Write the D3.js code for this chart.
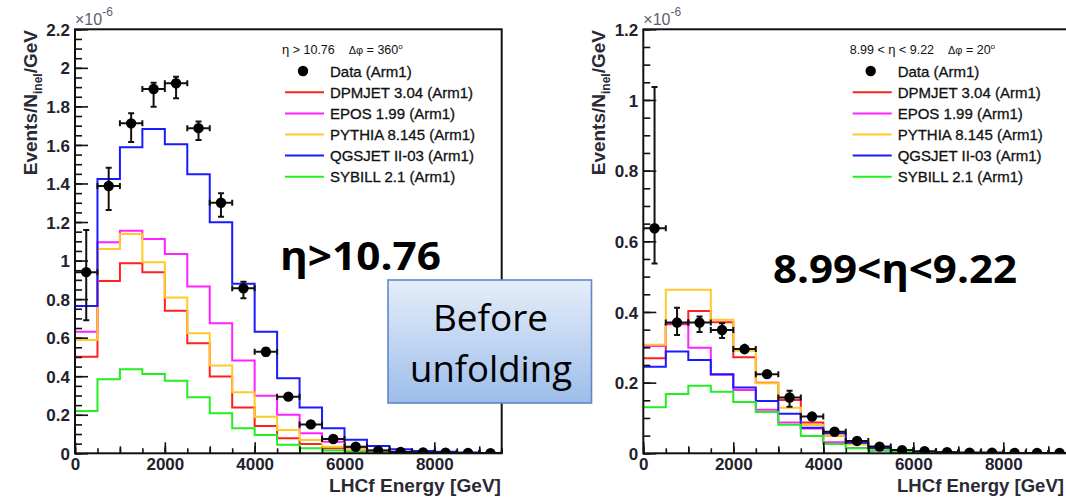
<!DOCTYPE html>
<html>
<head>
<meta charset="utf-8">
<script src="https://cdn.jsdelivr.net/npm/d3@7"></script>
<style>
  body { margin: 0; background: #fff; }
  svg { display: block; }
  text { white-space: pre; }
  .tick text { font-family: "Liberation Sans", Arial, sans-serif; font-weight: bold; font-size: 17px; fill: #22222e; }
  .tick line { stroke: #111; stroke-width: 1.6px; }
</style>
</head>
<body>
<div id="page"></div>
<script>
// energy bins (GeV), lower edges, 500 GeV wide
const binLow = [0, 500, 1000, 1500, 2000, 2500, 3000, 3500, 4000, 4500,
                5000, 5500, 6000, 6500, 7000, 7500, 8000, 8500, 9000];
const xTicks = [0, 2000, 4000, 6000, 8000];
const yTicksL = [0, 0.2, 0.4, 0.6, 0.8, 1, 1.2, 1.4, 1.6, 1.8, 2, 2.2];
const yTicksR = [0, 0.2, 0.4, 0.6, 0.8, 1, 1.2];

const modelNames = ["DPMJET 3.04 (Arm1)", "EPOS 1.99 (Arm1)", "PYTHIA 8.145 (Arm1)",
                    "QGSJET II-03 (Arm1)", "SYBILL 2.1 (Arm1)"];
const modelColors = ["#ff2020", "#ff22ff", "#ffc926", "#1a1aff", "#22ee22"];

// left panel: eta > 10.76 (units 1e-6)
const dataL   = [0.94, 1.387, 1.712, 1.890, 1.920, 1.687, 1.300, 0.856, 0.527, 0.294,
                 0.150, 0.074, 0.034, 0.014, 0.007, 0.004, 0.003, 0.002, 0.001];
const errUpL  = [0.218, 0.095, 0.052, 0.033, 0.034, 0.034, 0.049, 0.034, 0.02, 0.01,
                 0.006, 0.004, 0.002, 0.001, 0.001, 0.001, 0.001, 0.001, 0.001];
const errDnL  = [0.249, 0.125, 0.097, 0.092, 0.078, 0.061, 0.072, 0.052, 0.02, 0.01,
                 0.006, 0.004, 0.002, 0.001, 0.001, 0.001, 0.001, 0.001, 0.001];
const dpmjetL = [0.501, 0.894, 0.986, 0.939, 0.740, 0.571, 0.398, 0.237, 0.142, 0.078,
                 0.048, 0.026, 0.013, 0.006, 0.003, 0.002, 0.001, 0.001, 0.0005];
const eposL   = [0.631, 1.095, 1.155, 1.112, 1.034, 0.865, 0.675, 0.481, 0.299, 0.200,
                 0.104, 0.060, 0.030, 0.015, 0.008, 0.004, 0.002, 0.001, 0.0005];
const pythiaL = [0.588, 1.060, 1.138, 0.991, 0.808, 0.623, 0.455, 0.317, 0.190, 0.121,
                 0.069, 0.034, 0.018, 0.008, 0.004, 0.002, 0.001, 0.0005, 0.0002];
const qgsjetL = [0.764, 1.423, 1.588, 1.683, 1.604, 1.448, 1.199, 0.880, 0.631, 0.389,
                 0.237, 0.130, 0.070, 0.038, 0.021, 0.012, 0.008, 0.004, 0.002];
const sybillL = [0.220, 0.384, 0.436, 0.411, 0.377, 0.291, 0.208, 0.130, 0.095, 0.045,
                 0.026, 0.014, 0.008, 0.004, 0.002, 0.001, 0.0005, 0.0002, 0.0001];

// right panel: 8.99 < eta < 9.22
const dataR   = [0.637, 0.370, 0.370, 0.349, 0.295, 0.224, 0.158, 0.104, 0.061, 0.035,
                 0.019, 0.009, 0.006, 0.003, 0.002, 0.002, 0.001, 0.001, 0.001];
const errUpR  = [0.40, 0.042, 0.017, 0.019, 0.015, 0.012, 0.019, 0.012, 0.006, 0.004,
                 0.002, 0.001, 0.001, 0.001, 0.001, 0.001, 0.001, 0.001, 0.001];
const errDnR  = [0.10, 0.035, 0.027, 0.023, 0.015, 0.012, 0.026, 0.012, 0.006, 0.004,
                 0.002, 0.001, 0.001, 0.001, 0.001, 0.001, 0.001, 0.001, 0.001];
const dpmjetR = [0.269, 0.365, 0.403, 0.371, 0.272, 0.200, 0.151, 0.087, 0.050, 0.028,
                 0.013, 0.006, 0.003, 0.002, 0.001, 0.0005, 0.0003, 0.0002, 0.0001];
const eposR   = [0.304, 0.368, 0.299, 0.222, 0.179, 0.123, 0.087, 0.070, 0.031, 0.015,
                 0.008, 0.004, 0.002, 0.001, 0.0005, 0.0003, 0.0002, 0.0001, 0.0001];
const pythiaR = [0.307, 0.463, 0.463, 0.378, 0.290, 0.198, 0.129, 0.080, 0.050, 0.025,
                 0.012, 0.006, 0.003, 0.001, 0.0005, 0.0003, 0.0002, 0.0001, 0.0001];
const qgsjetR = [0.245, 0.288, 0.264, 0.224, 0.186, 0.148, 0.112, 0.072, 0.057, 0.030,
                 0.015, 0.007, 0.004, 0.002, 0.001, 0.0005, 0.0003, 0.0002, 0.0001];
const sybillR = [0.130, 0.168, 0.191, 0.174, 0.145, 0.117, 0.081, 0.049, 0.026, 0.014,
                 0.008, 0.004, 0.002, 0.001, 0.0005, 0.0003, 0.0002, 0.0001, 0.0001];

const svg = d3.select("#page").append("svg")
    .attr("width", 1066)
    .attr("height", 497);

const defs = svg.append("defs");
const grad = defs.append("linearGradient")
    .attr("id", "boxGrad").attr("x1", 0).attr("y1", 0).attr("x2", 0).attr("y2", 1);
grad.append("stop").attr("offset", "0%").attr("stop-color", "#e6eefa");
grad.append("stop").attr("offset", "100%").attr("stop-color", "#9dbdea");

// draw one ROOT style panel
function drawPanel(p) {
    const x = d3.scaleLinear().domain([0, 9500]).range([p.left, p.right]);
    const y = d3.scaleLinear().domain([0, p.yMax]).range([453.3, 29.3]);
    const g = svg.append("g");

    const clipId = "clip" + p.id;
    defs.append("clipPath").attr("id", clipId)
        .append("rect").attr("x", p.left).attr("y", 29.3)
        .attr("width", p.right - p.left).attr("height", 424);

    // histograms
    const line = d3.line().curve(d3.curveStepAfter)
        .x(d => x(d[0])).y(d => y(d[1]));
    const plotG = g.append("g").attr("clip-path", `url(#${clipId})`);
    p.models.forEach((vals, k) => {
        const pts = binLow.map((b, i) => [b, vals[i]]);
        pts.push([9500, vals[vals.length - 1]]);
        plotG.append("path")
            .attr("d", line(pts))
            .attr("fill", "none")
            .attr("stroke", modelColors[k])
            .attr("stroke-width", 2);
    });

    // data points with error bars
    const pts = plotG.selectAll(".pt")
        .data(binLow.map((b, i) => ({b: b, v: p.data[i], up: p.errUp[i], dn: p.errDn[i]})))
        .join("g");
    pts.append("line")
        .attr("x1", d => x(d.b)).attr("x2", d => x(d.b + 500))
        .attr("y1", d => y(d.v)).attr("y2", d => y(d.v))
        .attr("stroke", "#111").attr("stroke-width", 2);
    pts.append("line")
        .attr("x1", d => x(d.b + 250)).attr("x2", d => x(d.b + 250))
        .attr("y1", d => y(d.v + d.up)).attr("y2", d => y(d.v - d.dn))
        .attr("stroke", "#111").attr("stroke-width", 2);
    // caps
    [d => d.v + d.up, d => d.v - d.dn].forEach(f => {
        pts.filter(d => d.up > 0.015).append("line")
            .attr("x1", d => x(d.b + 250) - 3).attr("x2", d => x(d.b + 250) + 3)
            .attr("y1", d => y(f(d))).attr("y2", d => y(f(d)))
            .attr("stroke", "#111").attr("stroke-width", 2);
    });
    [d => d.b, d => d.b + 500].forEach(f => {
        pts.append("line")
            .attr("x1", d => x(f(d))).attr("x2", d => x(f(d)))
            .attr("y1", d => y(d.v) - 3).attr("y2", d => y(d.v) + 3)
            .attr("stroke", "#111").attr("stroke-width", 2);
    });
    pts.append("circle")
        .attr("cx", d => x(d.b + 250)).attr("cy", d => y(d.v))
        .attr("r", 5.2).attr("fill", "#000");

    // frame
    g.append("rect")
        .attr("x", p.left).attr("y", 29.3)
        .attr("width", p.right - p.left).attr("height", 424)
        .attr("fill", "none").attr("stroke", "#111").attr("stroke-width", 2);

    // y axis (ticks pointing inward)
    const yMinor = d3.range(0, p.yMax + 0.001, 0.05).map(v => +v.toFixed(2));
    g.append("g").attr("transform", `translate(${p.left},0)`)
        .call(d3.axisLeft(y).tickValues(yMinor).tickSize(-7).tickFormat(""))
        .call(a => a.select(".domain").remove());
    g.append("g").attr("transform", `translate(${p.left},0)`)
        .call(d3.axisLeft(y).tickValues(p.yTicks).tickSize(-13).tickPadding(5)
            .tickFormat(d => String(+d.toFixed(1))))
        .call(a => a.select(".domain").remove())
        .call(a => a.selectAll("text").attr("dy", "0.36em"));

    // x axis
    g.append("g").attr("transform", "translate(0,453.3)")
        .call(d3.axisBottom(x).tickValues(d3.range(0, 9501, 500)).tickSize(-5).tickFormat(""))
        .call(a => a.select(".domain").remove());
    g.append("g").attr("transform", "translate(0,453.3)")
        .call(d3.axisBottom(x).tickValues(d3.range(0, 9501, 1000)).tickSize(-7).tickFormat(""))
        .call(a => a.select(".domain").remove());
    g.append("g").attr("transform", "translate(0,453.3)")
        .call(d3.axisBottom(x).tickValues(xTicks).tickSize(-11).tickPadding(4)
            .tickFormat(d3.format("d")))
        .call(a => a.select(".domain").remove())
        .call(a => a.selectAll("text").attr("dy", "0.72em"));

    // x10^-6
    const ex = g.append("text")
        .attr("x", p.left).attr("y", 25)
        .attr("font-family", "Liberation Sans, Arial, sans-serif")
        .attr("font-size", 16).attr("fill", "#5a5f70");
    ex.append("tspan").text("×10");
    ex.append("tspan").attr("dy", -9).attr("font-size", 12).text("-6");

    // axis titles
    const yt = g.append("text")
        .attr("transform", `translate(${p.titleX},30) rotate(-90)`)
        .attr("text-anchor", "end")
        .attr("font-family", "Liberation Sans, Arial, sans-serif")
        .attr("font-weight", "bold").attr("font-size", 19).attr("fill", "#2a2a35");
    yt.append("tspan").text("Events/N");
    yt.append("tspan").attr("font-size", 12).attr("dy", 5).text("inel");
    yt.append("tspan").attr("dy", -5).text("/GeV");

    g.append("text")
        .attr("x", p.xTitleX).attr("y", 492)
        .attr("font-family", "Liberation Sans, Arial, sans-serif")
        .attr("font-weight", "bold").attr("font-size", 17.5).attr("fill", "#2a2a35")
        .attr("textLength", p.xTitleW).attr("lengthAdjust", "spacingAndGlyphs")
        .text("LHCf Energy [GeV]");

    // legend
    const lg = g.append("g")
        .attr("font-family", "Liberation Sans, Arial, sans-serif").attr("fill", "#111");
    const hd = lg.append("text").attr("x", p.legX - 3).attr("y", 53.5).attr("font-size", 12.5);
    p.header.forEach(s => {
        hd.append("tspan").attr("font-size", s[1]).attr("dy", s[2] || 0).text(s[0]);
    });
    lg.append("circle").attr("cx", p.legX + 18).attr("cy", 71).attr("r", 5.2).attr("fill", "#000");
    lg.append("text").attr("x", p.legX + 45).attr("y", 76.5).attr("font-size", 15)
        .attr("stroke", "#111").attr("stroke-width", 0.3).text("Data (Arm1)");
    modelNames.forEach((name, k) => {
        const ly = 92.3 + k * 21.1;
        lg.append("line")
            .attr("x1", p.legX).attr("x2", p.legX + 39)
            .attr("y1", ly).attr("y2", ly)
            .attr("stroke", modelColors[k]).attr("stroke-width", 2);
        lg.append("text").attr("x", p.legX + 45).attr("y", ly + 5.5)
            .attr("font-size", 15).attr("stroke", "#111").attr("stroke-width", 0.3)
            .text(name);
    });

    // big annotation
    g.append("text")
        .attr("x", p.bigX).attr("y", p.bigY)
        .attr("font-family", "Open Sans, sans-serif").attr("font-weight", "bold")
        .attr("font-size", 40).attr("fill", "#000")
        .attr("textLength", p.bigW).attr("lengthAdjust", "spacingAndGlyphs")
        .text(p.big);
}

drawPanel({
    id: "L", left: 75, right: 501.7, yMax: 2.2, yTicks: yTicksL, titleX: 36.5,
    data: dataL, errUp: errUpL, errDn: errDnL,
    models: [dpmjetL, eposL, pythiaL, qgsjetL, sybillL],
    legX: 285, xTitleX: 329, xTitleW: 172,
    header: [["η", 13], [" > 10.76    ", 12.5], ["Δφ", 11], [" = 360", 12.5], ["o", 8, -5]],
    big: "η>10.76", bigX: 280, bigY: 270, bigW: 161
});

drawPanel({
    id: "R", left: 643.3, right: 1070.8, yMax: 1.2, yTicks: yTicksR, titleX: 605,
    data: dataR, errUp: errUpR, errDn: errDnR,
    models: [dpmjetR, eposR, pythiaR, qgsjetR, sybillR],
    legX: 852.7, xTitleX: 897, xTitleW: 167,
    header: [["8.99 < ", 12.5], ["η", 13], [" < 9.22    ", 12.5], ["Δφ", 11], [" = 20", 12.5], ["o", 8, -5]],
    big: "8.99<η<9.22", bigX: 773, bigY: 283, bigW: 244
});

// "Before unfolding" box
const box = svg.append("g");
box.append("rect")
    .attr("x", 388).attr("y", 280).attr("width", 203.5).attr("height", 123)
    .attr("fill", "url(#boxGrad)").attr("stroke", "#5f88c4").attr("stroke-width", 1.6);
box.append("text")
    .attr("x", 433).attr("y", 331)
    .attr("font-family", "Open Sans, sans-serif").attr("font-size", 36).attr("fill", "#000")
    .attr("textLength", 115).attr("lengthAdjust", "spacingAndGlyphs")
    .text("Before");
box.append("text")
    .attr("x", 410).attr("y", 381.5)
    .attr("font-family", "Open Sans, sans-serif").attr("font-size", 36).attr("fill", "#000")
    .attr("textLength", 162).attr("lengthAdjust", "spacingAndGlyphs")
    .text("unfolding");
</script>
</body>
</html>
